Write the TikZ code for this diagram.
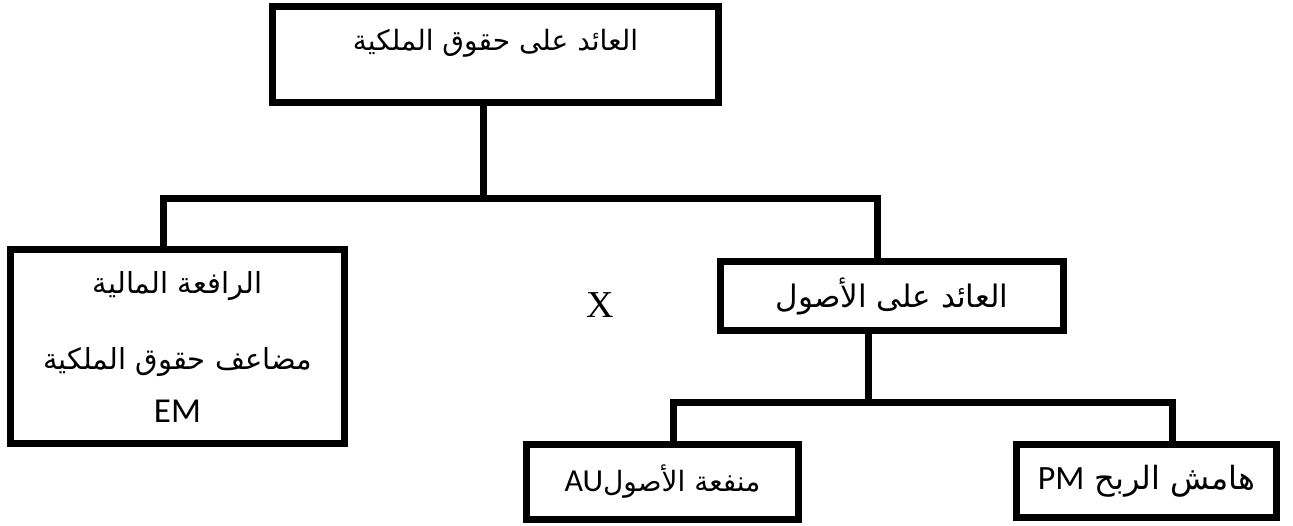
\documentclass[tikz,border=0pt]{standalone}
\usepackage{fontspec}
\setmainfont{Liberation Serif}
\newfontfamily\arabicfont[Script=Arabic]{DejaVu Sans}
\newfontfamily\calfont{Carlito}
\TeXXeTstate=1
\usetikzlibrary{positioning}
\tikzset{box/.style = {draw, rectangle, line width = 7pt, inner sep = 0, align = center, font = \fontsize{28}{34}\selectfont}}
\tikzset{link/.style = {line width = 7pt}}
\newcommand{\artext}[1]{{\arabicfont\beginR #1\endR}}

\begin{document}
\begin{tikzpicture}[x = 1pt, y = -1pt]
  \useasboundingbox (0, 0) rectangle (1293, 525);
  \node [box, minimum width = 446, minimum height = 96, text depth = 29pt] (roe) at (495.5, 54.5) {\artext{العائد على حقوق الملكية}};
  \node [box, minimum width = 334, minimum height = 194, font = \fontsize{29}{34}\selectfont] (lev) at (177.5, 346.5)
    {\artext{الرافعة المالية}\\[42pt]\artext{مضاعف حقوق الملكية}\\[19pt]{\calfont\fontsize{35}{40}\selectfont EM}};
  \node [box, minimum width = 343, minimum height = 69, font = \fontsize{31}{36}\selectfont] (roa) at (892, 296) {\artext{العائد على الأصول}};
  \node [font = \fontsize{38}{44}\selectfont] (times) at (600, 305) {X};
  \node [box, minimum width = 272, minimum height = 75] (au) at (662.5, 482)
    {\artext{منفعة الأصول\beginL{\calfont\fontsize{32}{38}\selectfont AU}\endL}};
  \node [box, minimum width = 260, minimum height = 73, font = \fontsize{32}{38}\selectfont] (pm) at (1146.5, 481)
    {\artext{هامش الربح \beginL{\calfont\fontsize{34}{38}\selectfont PM}\endL}};
  % connectors
  \coordinate (upper) at (483, 198);
  \coordinate (lower) at (868, 402);
  \draw [link] (roe.south -| upper) -- (upper);
  \draw [link] ([xshift = -14.5]lev.north) |- (upper) -| ([xshift = -15]roa.north);
  \draw [link] (roa.south -| lower) -- (lower);
  \draw [link] ([xshift = 10.5]au.north) |- (lower) -| ([xshift = 25.5]pm.north);
\end{tikzpicture}
\end{document}
